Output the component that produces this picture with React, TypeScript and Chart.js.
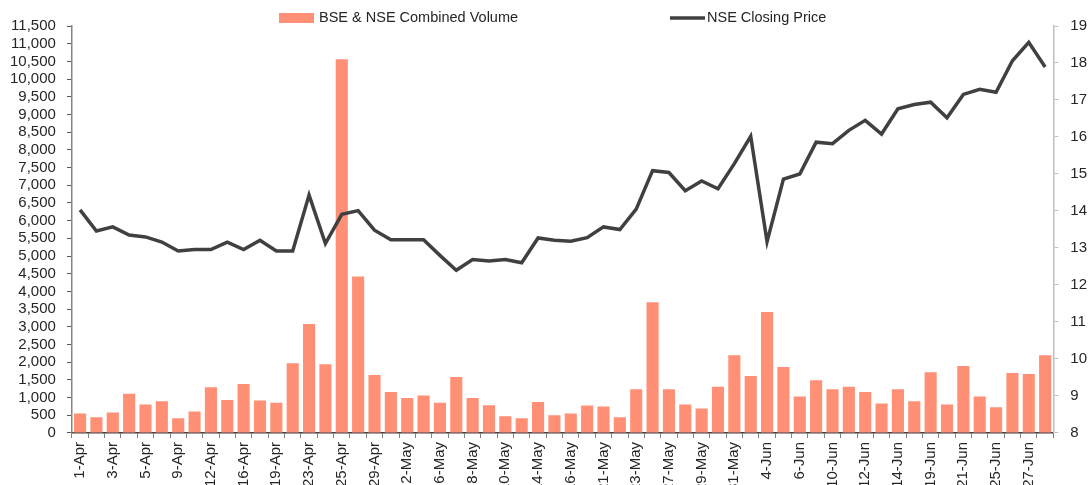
import React, { useEffect, useRef } from 'react';
import { Chart, registerables } from 'chart.js';

Chart.register(...registerables);

// Trading days (category axis)
const categories: string[] = [
  '1-Apr', '2-Apr', '3-Apr', '4-Apr', '5-Apr', '8-Apr', '9-Apr', '10-Apr', '12-Apr', '15-Apr',
  '16-Apr', '18-Apr', '19-Apr', '22-Apr', '23-Apr', '24-Apr', '25-Apr', '26-Apr', '29-Apr', '30-Apr',
  '2-May', '3-May', '6-May', '7-May', '8-May', '9-May', '10-May', '13-May', '14-May', '15-May',
  '16-May', '17-May', '21-May', '22-May', '23-May', '24-May', '27-May', '28-May', '29-May', '30-May',
  '31-May', '3-Jun', '4-Jun', '5-Jun', '6-Jun', '7-Jun', '10-Jun', '11-Jun', '12-Jun', '13-Jun',
  '14-Jun', '17-Jun', '19-Jun', '20-Jun', '21-Jun', '24-Jun', '25-Jun', '26-Jun', '27-Jun', '28-Jun',
];

const seriesNames: string[] = ['BSE & NSE Combined Volume', 'NSE Closing Price'];

const combinedVolume: number[] = [
  551, 446, 580, 1108, 807, 900, 418, 608, 1290, 929,
  1384, 917, 853, 1972, 3080, 1944, 10560, 4424, 1640, 1157,
  986, 1062, 853, 1583, 986, 787, 475, 418, 872, 503,
  551, 779, 750, 446, 1233, 3694, 1233, 807, 693, 1307,
  2199, 1611, 3421, 1867, 1034, 1489, 1233, 1307, 1157, 835,
  1233, 900, 1716, 807, 1895, 1034, 730, 1697, 1668, 2199,
];

const closingPrice: number[] = [
  14.03, 13.46, 13.57, 13.35, 13.30, 13.16, 12.92, 12.96, 12.96, 13.16,
  12.96, 13.21, 12.92, 12.92, 14.43, 13.12, 13.91, 14.01, 13.48, 13.22,
  13.22, 13.22, 12.80, 12.40, 12.69, 12.65, 12.69, 12.60, 13.27, 13.21,
  13.18, 13.28, 13.57, 13.50, 14.05, 15.09, 15.04, 14.55, 14.81, 14.60,
  15.28, 16.02, 13.17, 14.86, 15.00, 15.86, 15.82, 16.18, 16.45, 16.08,
  16.76, 16.88, 16.94, 16.52, 17.15, 17.29, 17.21, 18.06, 18.56, 17.89,
];

const volumeAxis = { min: 0, max: 11500, step: 500 };
const priceAxis = { min: 8, max: 19, step: 1 };

const BAR_COLOR = 'rgb(255, 143, 117)';
const LINE_COLOR = '#404040';
const TEXT_COLOR = '#262626';
const FONT_FAMILY = '"Liberation Sans", Arial, sans-serif';

const legendPlugin = {
  id: 'customLegend',
  afterDraw(chart: any) {
    const ctx = chart.ctx as CanvasRenderingContext2D;
    const cy = 18;
    ctx.save();
    ctx.font = `14.5px ${FONT_FAMILY}`;
    ctx.textBaseline = 'middle';
    ctx.textAlign = 'left';
    // bar item
    ctx.fillStyle = BAR_COLOR;
    ctx.fillRect(279, 13, 35, 10);
    ctx.fillStyle = TEXT_COLOR;
    ctx.fillText(seriesNames[0], 319, cy);
    // line item
    ctx.strokeStyle = LINE_COLOR;
    ctx.lineWidth = 3.5;
    ctx.beginPath();
    ctx.moveTo(670, cy);
    ctx.lineTo(705, cy);
    ctx.stroke();
    ctx.fillText(seriesNames[1], 707, cy);
    ctx.restore();
  },
};

export default function App() {
  const ref = useRef<HTMLCanvasElement | null>(null);

  useEffect(() => {
    if (!ref.current) return;
    const chart = new Chart(ref.current, {
      type: 'bar',
      data: {
        labels: categories,
        datasets: [
          {
            type: 'line',
            label: seriesNames[1],
            data: closingPrice,
            yAxisID: 'yPrice',
            borderColor: LINE_COLOR,
            backgroundColor: LINE_COLOR,
            borderWidth: 3.5,
            pointRadius: 0,
            tension: 0,
            order: 1,
          } as any,
          {
            type: 'bar',
            label: seriesNames[0],
            data: combinedVolume,
            yAxisID: 'yVol',
            backgroundColor: BAR_COLOR,
            borderWidth: 0,
            categoryPercentage: 1,
            barPercentage: 0.74,
            order: 2,
          },
        ],
      },
      options: {
        responsive: false,
        animation: false,
        devicePixelRatio: 1,
        layout: { padding: { left: -1, right: -7, top: 26, bottom: 0 } },
        plugins: {
          legend: { display: false },
          tooltip: { enabled: false },
        },
        scales: {
          x: {
            offset: true,
            grid: {
              offset: true,
              drawOnChartArea: false,
              drawTicks: true,
              tickLength: 5,
              color: '#7f7f7f',
            },
            border: { color: '#404040', width: 1.5 },
            ticks: {
              autoSkip: false,
              maxRotation: 90,
              minRotation: 90,
              padding: 4,
              color: TEXT_COLOR,
              font: { family: FONT_FAMILY, size: 15 },
              callback: (_v: any, i: number) => (i % 2 === 0 ? categories[i] : ''),
            },
          },
          yVol: {
            position: 'left',
            min: volumeAxis.min,
            max: volumeAxis.max,
            grid: {
              drawOnChartArea: false,
              drawTicks: true,
              tickLength: 5,
              color: '#595959',
            },
            border: { color: '#868686', width: 1.5 },
            ticks: {
              autoSkip: false,
              stepSize: volumeAxis.step,
              padding: 11,
              color: TEXT_COLOR,
              font: { family: FONT_FAMILY, size: 15 },
              callback: (v: any) => Number(v).toLocaleString('en-US'),
            },
          },
          yPrice: {
            position: 'right',
            min: priceAxis.min,
            max: priceAxis.max,
            grid: {
              drawOnChartArea: false,
              drawTicks: true,
              tickLength: 5,
              color: '#bfbfbf',
            },
            border: { color: '#bfbfbf', width: 1.5 },
            ticks: {
              autoSkip: false,
              stepSize: priceAxis.step,
              padding: 12,
              color: TEXT_COLOR,
              font: { family: FONT_FAMILY, size: 15 },
            },
          },
        },
      },
      plugins: [legendPlugin],
    });
    return () => chart.destroy();
  }, []);

  return (
    <div
      style={{
        position: 'absolute',
        left: 0,
        top: 0,
        width: 1092,
        height: 485,
        overflow: 'hidden',
        background: '#ffffff',
      }}
    >
      <canvas
        ref={ref}
        width={1092}
        height={496}
        style={{ display: 'block', width: 1092, height: 496 }}
      />
    </div>
  );
}
